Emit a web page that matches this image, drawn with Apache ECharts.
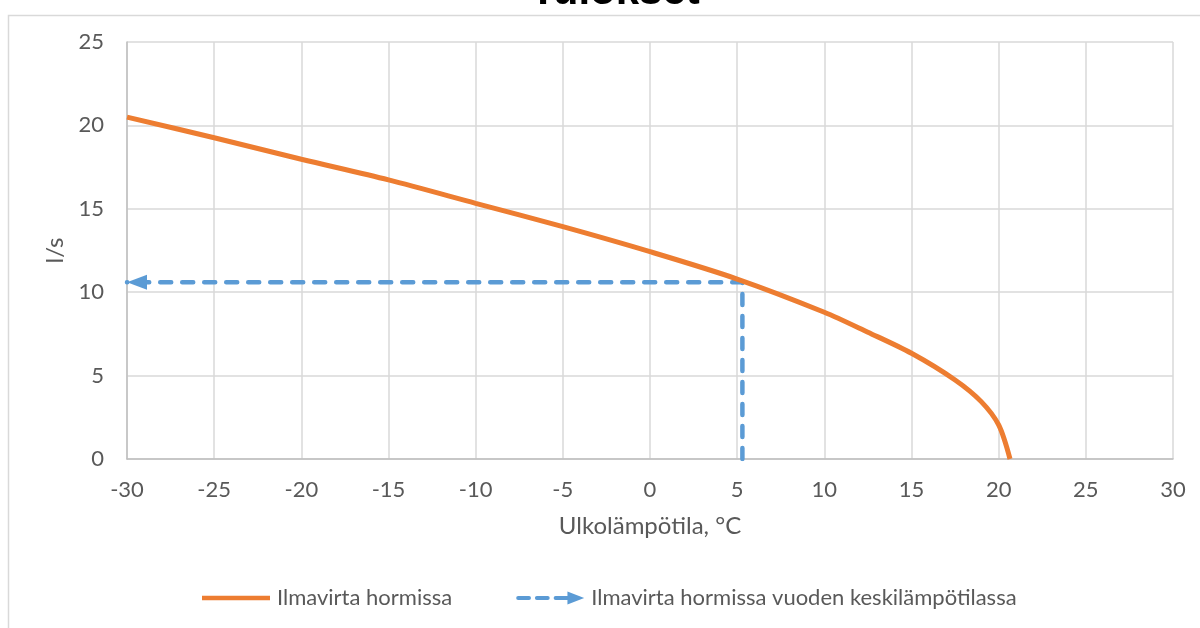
<!DOCTYPE html>
<html>
<head>
<meta charset="utf-8">
<script src="https://cdn.jsdelivr.net/npm/echarts@6/dist/echarts.min.js"></script>
<style>html,body{margin:0;padding:0;background:#fff}#c{width:1200px;height:628px}</style>
</head>
<body>
<div id="c"></div>
<script>
// Data
const titleText = 'Tulokset';
const xAxisName = 'Ulkolämpötila, °C';
const yAxisName = 'l/s';
const seriesNames = ['Ilmavirta hormissa', 'Ilmavirta hormissa vuoden keskilämpötilassa'];
const tempValues = [-30, -25, -20, -15, -10, -5, 0, 5, 10, 12.5, 15, 17.5, 19, 20, 20.65];
const flowValues = [20.5, 19.26, 17.97, 16.73, 15.33, 13.93, 12.43, 10.79, 8.8, 7.6, 6.34, 4.74, 3.44, 2.04, 0];
const meanTemp = 5.3;
const meanFlow = 10.6;
const xMin = -30, xMax = 30, xStep = 5;
const yMin = 0, yMax = 25, yStep = 5;

const FONT = 'Lato';
const orange = '#ED7D31';
const blue = '#5B9BD5';

const flowData = tempValues.map((t, i) => [t, flowValues[i]]);
const arrowLen = 20;
const meanData = [
  [meanTemp, yMin],
  [meanTemp, meanFlow],
  { value: [xMin, meanFlow], symbol: 'triangle', symbolSize: [15, arrowLen], symbolRotate: 90, symbolOffset: [arrowLen / 2, 0] }
];

const orangeIcon = 'path://M0,0 L0.01,0 L0.01,0.01 Z M0,14 L0.01,14 L0.01,13.99 Z M68,0 L67.99,0 L67.99,0.01 Z M0,4.8 L68,4.8 L68,9.2 L0,9.2 Z';
const blueIcon = 'path://M0,0 L0.01,0 L0.01,0.01 Z M0,14 L0.01,14 L0.01,13.99 Z M1,5 L12,5 A2,2 0 0 1 12,9 L1,9 A2,2 0 0 1 1,5 Z M20,5 L31,5 A2,2 0 0 1 31,9 L20,9 A2,2 0 0 1 20,5 Z M39,5 L51,5 L51,0.5 L68,7 L51,13.5 L51,9 L39,9 A2,2 0 0 1 39,5 Z';

const chart = echarts.init(document.getElementById('c'), null, { renderer: 'canvas' });
chart.setOption({
  animation: false,
  backgroundColor: '#fff',
  graphic: [
    { type: 'rect', left: 6, top: 13, shape: { width: 1250, height: 700 }, style: { fill: 'none', stroke: '#d9d9d9', lineWidth: 1.5 }, z: -1 },
    { type: 'text', x: 615, y: 13, style: { text: titleText, font: 'bold 42px "Liberation Sans"', fill: '#000', textAlign: 'center', textVerticalAlign: 'bottom' } }
  ],
  grid: { left: 127, right: 27, top: 42, bottom: 169, containLabel: false },
  legend: {
    left: 202, top: 587, padding: 0,
    itemWidth: 68, itemHeight: 14, itemGap: 64,
    textStyle: { fontFamily: FONT, fontSize: 22, color: '#595959', padding: [0, 0, 0, 2] },
    data: [
      { name: seriesNames[0], icon: orangeIcon },
      { name: seriesNames[1], icon: blueIcon }
    ]
  },
  xAxis: {
    type: 'value', min: xMin, max: xMax, interval: xStep,
    name: xAxisName, nameLocation: 'middle', nameGap: 55,
    nameTextStyle: { fontFamily: FONT, fontSize: 24, color: '#595959' },
    axisLine: { onZero: false, lineStyle: { color: '#bfbfbf', width: 1.5 } },
    axisTick: { show: false },
    axisLabel: { margin: 20, fontFamily: FONT, fontSize: 22, color: '#595959' },
    splitLine: { show: true, lineStyle: { color: '#d9d9d9', width: 1.5 } }
  },
  yAxis: {
    type: 'value', min: yMin, max: yMax, interval: yStep,
    name: yAxisName, nameLocation: 'middle', nameGap: 60,
    nameTextStyle: { fontFamily: FONT, fontSize: 24, color: '#595959' },
    axisLine: { show: true, onZero: false, lineStyle: { color: '#bfbfbf', width: 1.5 } },
    axisTick: { show: false },
    axisLabel: { margin: 23, fontFamily: FONT, fontSize: 22, color: '#595959' },
    splitLine: { show: true, lineStyle: { color: '#d9d9d9', width: 1.5 } }
  },
  series: [
    {
      name: seriesNames[0], type: 'line', data: flowData,
      smooth: 0.3, showSymbol: false, symbol: 'none',
      color: orange,
      lineStyle: { color: orange, width: 5 }, z: 3
    },
    {
      name: seriesNames[1], type: 'line', data: meanData,
      symbol: 'none', showSymbol: true, color: blue,
      itemStyle: { color: blue },
      lineStyle: { color: blue, width: 4.5, type: [11, 11], cap: 'round' }, z: 2
    }
  ]
});
</script>
</body>
</html>
